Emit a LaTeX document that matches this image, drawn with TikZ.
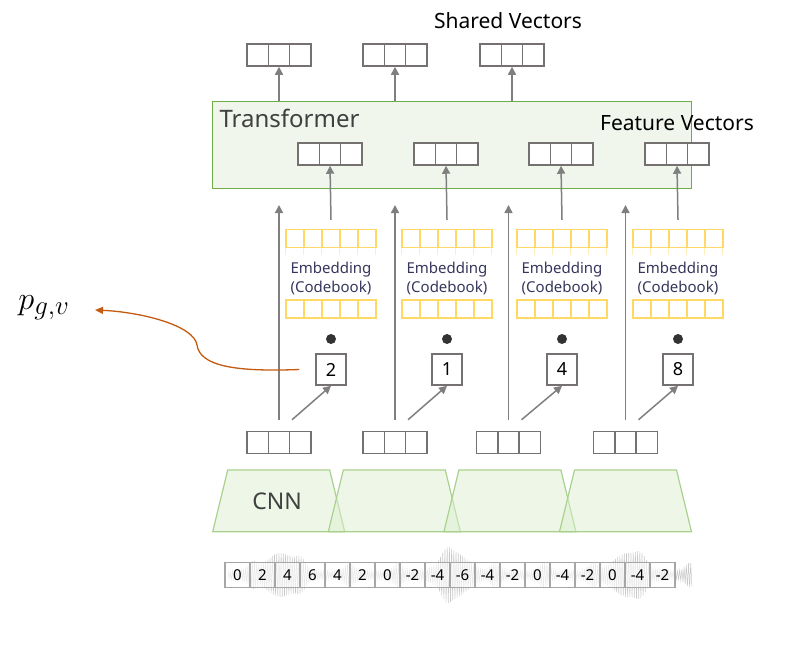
\documentclass[tikz,border=0pt]{standalone}
\usepackage{fontspec}
\setmainfont{Noto Sans}
\usetikzlibrary{arrows.meta,positioning}
\definecolor{vecgray}{HTML}{767171}
\definecolor{arrgray}{HTML}{7F7F7F}
\definecolor{txtgray}{HTML}{404040}
\definecolor{tfgreen}{HTML}{70AD47}
\definecolor{tffill}{HTML}{F0F6EC}
\definecolor{cnngreen}{HTML}{A9D18E}
\definecolor{cnnfill}{HTML}{DDEED0}
\definecolor{codeyel}{HTML}{FFD966}
\definecolor{cellgray}{HTML}{A6A6A6}
\definecolor{wavegray}{HTML}{C8C8C8}
\definecolor{pgvorange}{HTML}{C55A11}
\tikzset{
  vec/.style={draw=vecgray, line width=1.5pt, fill=white, minimum width=64pt,
    minimum height=22pt, inner sep=0pt,
    path picture={\foreach \k in {1,2}{\draw[vecgray,line width=1.5pt]
      ([xshift=\k*64pt/3]path picture bounding box.south west) --
      ([xshift=\k*64pt/3]path picture bounding box.north west);}}},
  code/.style={draw=codeyel, line width=1.2pt, minimum width=90pt,
    minimum height=18pt, inner sep=0pt,
    path picture={\foreach \k in {1,...,4}{\draw[codeyel,line width=1.2pt]
      ([xshift=\k*18pt]path picture bounding box.south west) --
      ([xshift=\k*18pt]path picture bounding box.north west);}}},
  arr/.style={draw=arrgray, line width=1.5pt, -{Triangle[width=8pt,length=8pt]}},
  idxbox/.style={draw=vecgray, line width=1.5pt, fill=white, minimum width=30pt,
    minimum height=31pt, inner sep=0pt, font=\fontsize{18}{20}\selectfont},
  cell/.style={draw=cellgray, line width=1.3pt, fill=white, fill opacity=0.6,
    text opacity=1, minimum width=25pt, minimum height=25pt, inner sep=0pt,
    font=\fontsize{15}{16}\selectfont, text=black},
  cnn/.style={draw=cnngreen, line width=1.2pt, fill=cnnfill, fill opacity=0.5},
  embtext/.style={align=center, font=\fontsize{15}{19}\selectfont, text=txtgray!85!blue},
}
\begin{document}
\begin{tikzpicture}[x=1pt,y=-1pt]
\useasboundingbox (0,0) rectangle (791,648);
% transformer block
\node[draw=tfgreen, line width=1.5pt, fill=tffill, minimum width=479pt,
  minimum height=87pt, inner sep=0pt] (tf) at (452,145) {};
\node[anchor=west, text=txtgray, font=\fontsize{24}{28}\selectfont] (tflbl) at (216,118) {Transformer};
\node[text=black, font=\fontsize{21}{24}\selectfont] (fvlbl) at (677,123) {Feature Vectors};
\node[text=black, font=\fontsize{21}{24}\selectfont] (svlbl) at (508,21) {Shared Vectors};
\foreach \i/\x in {1/279,2/395,3/512}{
  \node[vec] (sv\i) at (\x,55) {};
  \draw[arr] (sv\i |- tf.north) -- (sv\i.south);
}
\coordinate (top) at (0,205);
\foreach \i/\x/\c/\n in {1/330/279/2,2/446/395/1,3/561/508.5/4,4/677/625.5/8}{
  \node[vec] (fv\i) at (\x,154) {};
  \node[code] (embtop\i) at (\x+1,238.5) {};
  \foreach \k in {0,...,5}
    \draw[codeyel, line width=1.2pt, opacity=0.45] ([xshift=\k*18pt]embtop\i.south west) -- ++(0,-7pt);
  \node[embtext] (embtxt\i) at (\x+1,278) {Embedding\\(Codebook)};
  \node[code] (embbot\i) at (\x+1,309) {};
  \node[circle, fill=black!80, inner sep=0pt, minimum size=10pt] (dot\i) at (\x+1,339) {};
  \node[idxbox] (idx\i) at (\x+1,369.5) {\n};
  \node[vec] (cv\i) at (\c,442.5) {};
  \draw[arr] ([yshift=9pt]embtop\i.north) -- (fv\i.south);
  \draw[arr] ([yshift=11pt]cv\i.north) -- (cv\i |- top);
  \draw[arr] ([xshift=13pt,yshift=11pt]cv\i.north) -- (idx\i.south);
}
% cnn encoders
\foreach \i in {0,...,3}
  \filldraw[cnn] ({212.7+115.6*\i},531.7) -- ++(15,-61.7) -- ++(102,0) -- ++(15,61.7) -- cycle;
\node[text=txtgray, font=\fontsize{23}{26}\selectfont] (cnnlbl) at (277,501) {CNN};
% raw waveform
\draw[wavegray, line width=0.5pt] plot[domain=0:419, samples=420]
  ({228+1.107*\x},{575+(2*mod(\x,2)-1)*(4+18*abs(sin(1.15*\x+35))^16+8*abs(sin(4.1*\x))^10)});
\foreach \v [count=\i from 0] in {0,2,4,6,4,2,0,-2,-4,-6,-4,-2,0,-4,-2,0,-4,-2}
  \node[cell] (w\i) at (237.5+25*\i,575) {\v};
% selected codeword probability
\node[font=\Huge, scale=1.3] (pgv) at (44,308) {$p_{g,v}$};
\draw[pgvorange, line width=1.3pt, -{Triangle[width=7pt,length=8pt]}]
  ([xshift=-16pt]idx1.west) .. controls (235,372) and (200,366) .. (197,345)
  .. controls (194,325) and (140,312) .. (95,310);
\end{tikzpicture}
\end{document}
